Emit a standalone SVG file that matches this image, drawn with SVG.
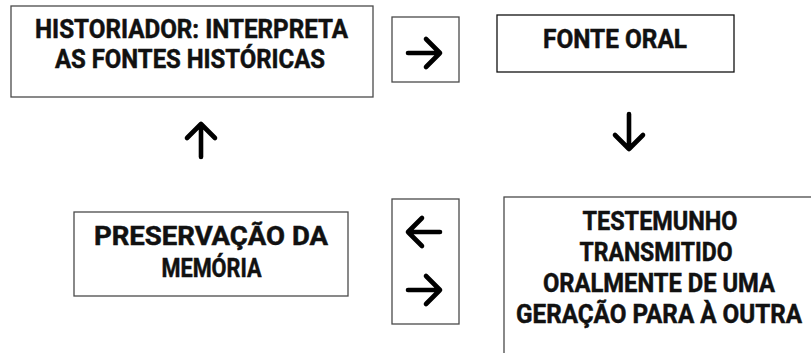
<svg xmlns="http://www.w3.org/2000/svg" width="811" height="353" viewBox="0 0 811 353">
<style>
.box{fill:#fff;stroke:#4a4a4a;stroke-width:1.3}
.dark{stroke:#111}
.t{font-family:Roboto,"Liberation Sans",sans-serif;font-weight:700;font-size:25.5px;fill:#111;text-anchor:middle;stroke:#111;stroke-width:0.5}
.arr{fill:none;stroke:#000;stroke-width:4.6;stroke-linecap:round;stroke-linejoin:round}
</style>
<rect width="811" height="353" fill="#fff"/>
<g id="historiador">
<rect class="box" x="11" y="6" width="362" height="91"/>
<text class="t" x="191.5" y="37.5" textLength="313" lengthAdjust="spacingAndGlyphs">HISTORIADOR: INTERPRETA</text>
<text class="t" x="190" y="67.5" textLength="270" lengthAdjust="spacingAndGlyphs">AS FONTES HISTÓRICAS</text>
</g>
<g id="seta-direita-1">
<rect class="box" x="392" y="17" width="67" height="65"/>
<path class="arr" d="M408 53H440M426 39L440 53L426 67"/>
</g>
<g id="fonte-oral">
<rect class="box dark" x="497" y="15" width="237" height="57"/>
<text class="t" x="615" y="48" textLength="144" lengthAdjust="spacingAndGlyphs">FONTE ORAL</text>
</g>
<g id="testemunho">
<rect class="box" x="504" y="197" width="320" height="170"/>
<text class="t" x="660" y="230" textLength="155" lengthAdjust="spacingAndGlyphs">TESTEMUNHO</text>
<text class="t" x="656" y="261" textLength="153" lengthAdjust="spacingAndGlyphs">TRANSMITIDO</text>
<text class="t" x="659" y="292" textLength="232" lengthAdjust="spacingAndGlyphs">ORALMENTE DE UMA</text>
<text class="t" x="659" y="323" textLength="286" lengthAdjust="spacingAndGlyphs">GERAÇÃO PARA À OUTRA</text>
</g>
<g id="setas-duplas">
<rect class="box" x="392" y="199" width="67" height="125"/>
<path class="arr" d="M408 232H440M422 218L408 232L422 246"/>
<path class="arr" d="M408 290H440M426 276L440 290L426 304"/>
</g>
<g id="preservacao">
<rect class="box" x="74" y="212" width="274" height="84"/>
<text class="t" x="211" y="245" textLength="234" lengthAdjust="spacingAndGlyphs">PRESERVAÇÃO DA</text>
<text class="t" x="211.5" y="277" textLength="100" lengthAdjust="spacingAndGlyphs">MEMÓRIA</text>
</g>
<g id="connectors">
<path class="arr" d="M201 157V124M187 138L201 124L215 138"/>
<path class="arr" d="M629 114V149M615 135L629 149L643 135"/>
</g>
</svg>
